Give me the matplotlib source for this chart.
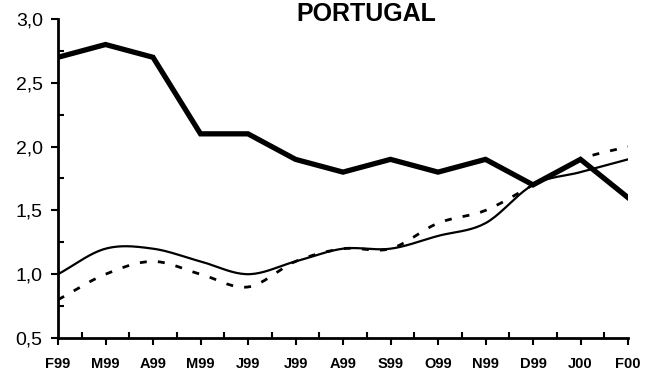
import numpy as np
import matplotlib
matplotlib.use("Agg")
import matplotlib.pyplot as plt
from matplotlib.ticker import MultipleLocator, FuncFormatter

categories = ["F99", "M99", "A99", "M99", "J99", "J99", "A99", "S99", "O99", "N99", "D99", "J00", "F00"]
thick_series = [2.7, 2.8, 2.7, 2.1, 2.1, 1.9, 1.8, 1.9, 1.8, 1.9, 1.7, 1.9, 1.6]
thin_series = [1.0, 1.2, 1.2, 1.1, 1.0, 1.1, 1.2, 1.2, 1.3, 1.4, 1.7, 1.8, 1.9]
dashed_series = [0.8, 1.0, 1.1, 1.0, 0.9, 1.1, 1.2, 1.2, 1.4, 1.5, 1.7, 1.9, 2.0]
title = "PORTUGAL"


def smooth(x, y, n=20):
    x = np.asarray(x, float)
    y = np.asarray(y, float)
    px = np.concatenate([[2 * x[0] - x[1]], x, [2 * x[-1] - x[-2]]])
    py = np.concatenate([[2 * y[0] - y[1]], y, [2 * y[-1] - y[-2]]])
    xs, ys = [], []
    for i in range(1, len(px) - 2):
        t = np.linspace(0, 1, n, endpoint=False)
        for arr, out in ((px, xs), (py, ys)):
            p0, p1, p2, p3 = arr[i - 1], arr[i], arr[i + 1], arr[i + 2]
            out.extend(0.5 * ((2 * p1) + (-p0 + p2) * t
                              + (2 * p0 - 5 * p1 + 4 * p2 - p3) * t ** 2
                              + (-p0 + 3 * p1 - 3 * p2 + p3) * t ** 3))
    xs.append(x[-1]); ys.append(y[-1])
    return np.array(xs), np.array(ys)


plt.rcParams['font.family'] = ['Liberation Sans', 'DejaVu Sans']
fig = plt.figure(figsize=(6.56, 3.74), dpi=100)
ax = fig.add_axes([58 / 656, 1 - 338 / 374, (628 - 58) / 656, (338 - 19) / 374])

x = np.arange(len(categories))
ax.plot(x, thick_series, color='black', lw=3.8, solid_joinstyle='miter', zorder=3)
sx, sy = smooth(x, thin_series)
ax.plot(sx, sy, color='black', lw=1.6, zorder=2)
dx, dy = smooth(x, dashed_series)
ax.plot(dx, dy, color='black', lw=2.0, ls=(0, (2.5, 4)), zorder=2)

ax.set_xlim(0, len(categories) - 1)
ax.set_ylim(0.5, 3.0)
ax.set_xticks(x)
ax.set_xticklabels(categories, fontsize=10.5, fontweight='bold')
ax.xaxis.set_minor_locator(MultipleLocator(0.5))
ax.yaxis.set_major_locator(MultipleLocator(0.5))
ax.yaxis.set_minor_locator(MultipleLocator(0.25))
ax.yaxis.set_major_formatter(FuncFormatter(lambda v, p: f"{v:.1f}".replace('.', ',')))
ax.tick_params(axis='y', which='major', labelsize=14, length=5, width=1.5, direction='out', pad=6)
ax.tick_params(axis='y', which='minor', length=4, width=1.5, direction='in')
ax.tick_params(axis='x', which='major', length=5, width=1.5, direction='out', pad=9)
ax.tick_params(axis='x', which='minor', length=4, width=1.5, direction='in')
for s in ('top', 'right'):
    ax.spines[s].set_visible(False)
for s in ('left', 'bottom'):
    ax.spines[s].set_linewidth(2.0)

fig.text(366 / 656, 1 - 21 / 374, title, ha='center', va='baseline', fontsize=18, fontweight='bold')

fig.savefig("out.png", dpi=100)
